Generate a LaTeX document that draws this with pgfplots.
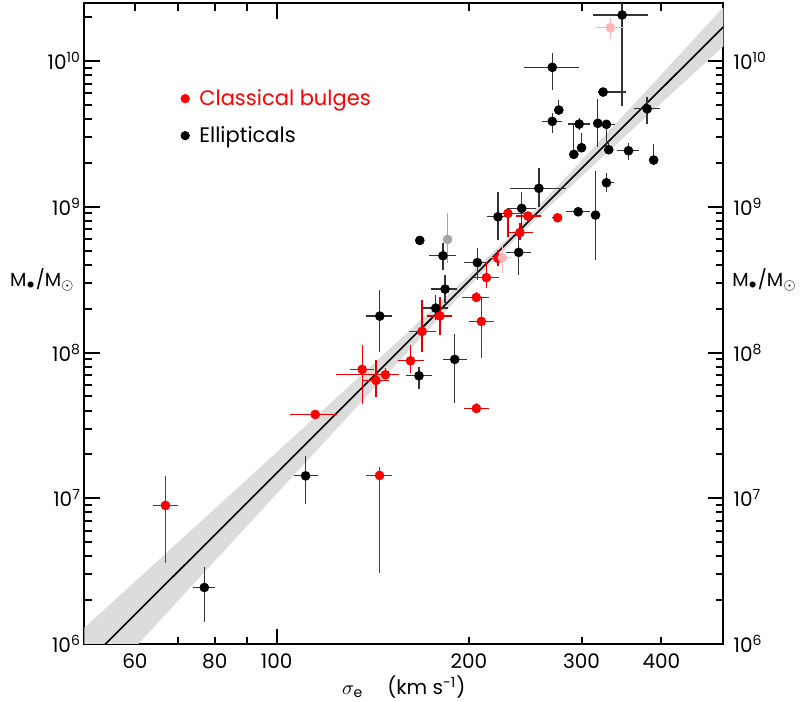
\documentclass[border=0pt]{standalone}
\usepackage{pgfplots}
\pgfplotsset{compat=1.18}
\usepackage{pgfplotstable}
\usepgfplotslibrary{fillbetween}
\usepackage{fontspec}
\setmainfont{Poppins}

\definecolor{pinkpt}{RGB}{250,182,182}
\definecolor{greypt}{RGB}{165,165,165}
\definecolor{bandgrey}{RGB}{220,220,220}

% sigma_e (km/s), M_BH (Msun), errors: x minus, x plus, y minus, y plus
\pgfplotstableread{
x y xm xp ym yp
347.3 2.069e10 34.9 34.1 1.578e10 1.5e10
270.0 9.053e9 26.2 27.1 2.731e9 2.350e9
324.3 6.126e9 5.4 28.1 0.374e9 0.400e9
276.4 4.610e9 3.2 3.7 0.351e9 0.790e9
270.0 3.856e9 9.9 10.1 0.666e9 0.540e9
297.5 3.696e9 11.9 11.6 0.335e9 0.367e9
318.1 3.737e9 3.8 3.1 1.155e9 1.723e9
328.2 3.678e9 7.0 10.8 1.096e9 0.258e9
380.0 4.705e9 17.9 18.7 1.009e9 0.984e9
300.0 2.541e9 3.2 3.2 0.167e9 0.649e9
291.8 2.289e9 2.4 2.8 0.096e9 1.348e9
330.9 2.462e9 3.9 3.3 0.125e9 0.408e9
355.3 2.423e9 14.2 13.4 0.331e9 0.313e9
389.1 2.092e9 3.2 3.8 0.097e9 0.601e9
328.2 1.461e9 5.0 8.8 0.193e9 0.234e9
257.3 1.338e9 25.5 25.9 0.338e9 0.497e9
296.4 0.924e9 13.2 13.4 0.047e9 0.056e9
315.5 0.877e9 3.4 3.4 0.446e9 0.890e9
241.8 0.975e9 12.2 12.5 0.283e9 0.293e9
222.0 0.854e9 8.3 10.4 0.263e9 0.414e9
239.2 4.865e8 11.0 10.6 1.467e8 1.704e8
206.1 4.140e8 9.7 8.8 1.000e8 1.042e8
183.5 2.723e8 9.3 8.3 0.550e8 0.675e8
177.4 2.017e8 9.3 7.7 0.348e8 0.460e8
182.1 4.611e8 8.9 8.6 0.934e8 0.997e8
167.5 5.879e8 1.8 1.8 0.420e8 0.344e8
145.0 1.777e8 6.8 6.8 0.766e8 0.905e8
190.0 8.97e7 8.2 8.9 4.50e7 4.40e7
167.0 6.922e7 7.7 7.8 1.341e7 1.056e7
111.0 1.425e7 4.7 4.9 0.514e7 0.520e7
77.07 2.442e6 2.98 3.02 1.024e6 0.940e6
}\ellip

\pgfplotstableread{
x y xm xp ym yp
66.99 8.925e6 2.98 3.05 5.357e6 5.255e6
275.2 8.404e8 5.2 4.7 0.302e8 0.367e8
230.1 9.010e8 5.9 13.7 2.787e8 0.482e8
247.3 8.635e8 10.7 11.5 0.533e8 0.561e8
240.3 6.652e8 11.2 11.3 0.745e8 1.041e8
222.0 4.425e8 5.8 6.2 0.508e8 0.620e8
212.9 3.266e8 9.3 9.9 0.512e8 0.927e8
205.3 2.388e8 10.0 9.6 0.170e8 0.222e8
209.1 1.635e8 9.1 9.7 0.715e8 0.776e8
180.1 1.783e8 7.9 8.3 0.467e8 0.628e8
168.9 1.396e8 7.7 8.5 0.385e8 0.893e8
162.0 8.770e7 7.4 8.1 1.581e7 2.47e7
136.1 7.657e7 5.9 6.0 3.233e7 3.583e7
148.0 7.032e7 24.2 7.4 0.568e7 0.784e7
143.1 6.434e7 6.7 6.7 1.468e7 2.433e7
114.9 3.759e7 10.0 9.4 0.213e7 0.265e7
205.4 4.133e7 9.0 9.5 0.314e7 0.340e7
144.9 1.434e7 6.7 6.9 1.126e7 0.193e7
}\bulges

\pgfplotstableread{
x y xm xp ym yp
333.0 1.693e10 16.7 17.2 0.284e10 0.271e10
225.5 4.467e8 11.8 6.9 0.976e8 0.992e8
}\pinkpts

\pgfplotstableread{
x y xm xp ym yp
185.1 5.973e8 1.8 1.8 1.885e8 3.037e8
}\greypts

\begin{document}
\begin{tikzpicture}[font=\fontsize{10}{12}\selectfont]
\begin{axis}[
  at={(0,0)}, anchor=south west, scale only axis,
  width=319.5pt, height=320.35pt,
  xmode=log, ymode=log,
  xmin=50, xmax=500, ymin=1e6, ymax=2.49e10,
  axis line style={line width=1pt},
  tick style={line width=1pt, black},
  major tick length=7.75pt, minor tick length=3.75pt,
  tick align=inside, tick pos=both,
  xtick={100}, xticklabels={100},
  extra x ticks={60,80,200,300,400},
  extra x tick labels={60,80,200,300,400},
  extra x tick style={major tick length=3.75pt, grid=none},
  minor xtick={70,90,500},
  ytick={1e6,1e7,1e8,1e9,1e10},
  yticklabels={10\textsuperscript{6},10\textsuperscript{7},10\textsuperscript{8},10\textsuperscript{9},10\textsuperscript{10}},
  minor ytick={2e6,3e6,4e6,5e6,6e6,7e6,8e6,9e6,2e7,3e7,4e7,5e7,6e7,7e7,8e7,9e7,2e8,3e8,4e8,5e8,6e8,7e8,8e8,9e8,2e9,3e9,4e9,5e9,6e9,7e9,8e9,9e9,2e10},
  xticklabel style={inner sep=4.8pt},
  yticklabel style={inner sep=1.5pt},
  xlabel={$\sigma_{\mathrm{e}}$\hspace{12pt}(km s\textsuperscript{-1})},
  xlabel style={at={(axis description cs:0.5,0)}, anchor=base, yshift=-25.5pt},
  ylabel={M$_\bullet$/M$_\odot$},
  ylabel style={rotate=-90, at={(axis description cs:0,0.5572)}, anchor=base east, inner sep=0pt, xshift=-4.6pt, font=\fontsize{9.5}{11}\selectfont},
  legend style={draw=none, fill=none, inner sep=0pt, at={(axis description cs:0.1507,0.8697)}, anchor=north west, row sep=7pt, column sep=4pt, nodes={inner sep=1pt}, font=\fontsize{10.5}{12.6}\selectfont},
  legend cell align=left,
  legend image code/.code={\draw[#1] plot coordinates {(0cm,0cm)};},
  error bars/error mark=none,
]
\addlegendimage{only marks, mark=*, mark size=2.1pt, red}
\addlegendentry{\textcolor{red}{Classical bulges}}
\addlegendimage{only marks, mark=*, mark size=2.1pt, black}
\addlegendentry{Ellipticals}

% fit and its uncertainty band
\addplot[name path=up, draw=none, forget plot] coordinates {
(50,1.292e6) (60,2.678e6) (70,4.960e6) (80,8.459e6) (100,2.066e7) (130,5.908e7) (160,1.362e8) (200,3.382e8) (229,6.012e8) (260,1.065e9) (300,2.075e9) (350,4.295e9) (400,8.091e9) (450,1.416e10) (500,2.337e10)};
\addplot[name path=lo, draw=none, forget plot] coordinates {
(50,3.958e5) (60,9.433e5) (70,1.965e6) (80,3.711e6) (100,1.073e7) (130,3.736e7) (160,9.993e7) (200,2.842e8) (229,5.236e8) (260,8.991e8) (300,1.616e9) (350,3.012e9) (400,5.150e9) (450,8.260e9) (500,1.260e10)};
\addplot[bandgrey, draw=none, forget plot] fill between[of=up and lo];
\addplot[black, line width=0.8pt, forget plot] coordinates {(50,7.151e5) (500,1.7155e10)};

\addplot[only marks, mark=*, mark size=2.2pt, black, forget plot,
  error bars/.cd, x dir=both, x explicit, y dir=both, y explicit,
  error bar style={line width=0.65pt, black!80}]
  table[x=x, y=y, x error minus=xm, x error plus=xp, y error minus=ym, y error plus=yp] {\ellip};
\addplot[only marks, mark=*, mark size=2.2pt, greypt, forget plot,
  error bars/.cd, x dir=both, x explicit, y dir=both, y explicit,
  error bar style={line width=0.65pt, greypt}]
  table[x=x, y=y, x error minus=xm, x error plus=xp, y error minus=ym, y error plus=yp] {\greypts};
\addplot[only marks, mark=*, mark size=2.2pt, red, forget plot,
  error bars/.cd, x dir=both, x explicit, y dir=both, y explicit,
  error bar style={line width=0.65pt, red!90!black}]
  table[x=x, y=y, x error minus=xm, x error plus=xp, y error minus=ym, y error plus=yp] {\bulges};
\addplot[only marks, mark=*, mark size=2.2pt, pinkpt, forget plot,
  error bars/.cd, x dir=both, x explicit, y dir=both, y explicit,
  error bar style={line width=0.65pt, pinkpt}]
  table[x=x, y=y, x error minus=xm, x error plus=xp, y error minus=ym, y error plus=yp] {\pinkpts};
\end{axis}

\begin{axis}[
  at={(0,0)}, anchor=south west, scale only axis,
  width=319.5pt, height=320.35pt,
  xmode=log, ymode=log,
  xmin=50, xmax=500, ymin=1e6, ymax=2.49e10,
  axis x line=none, axis y line*=right,
  y axis line style={draw=none},
  ytick style={draw=none},
  xtick=\empty,
  ytick={1e6,1e7,1e8,1e9,1e10},
  minor ytick={},
  yticklabels={10\textsuperscript{6},10\textsuperscript{7},10\textsuperscript{8},10\textsuperscript{9},10\textsuperscript{10}},
  yticklabel style={inner sep=1.5pt, xshift=3.5pt},
  ylabel={M$_\bullet$/M$_\odot$},
  ylabel style={rotate=-90, at={(axis description cs:1,0.5572)}, anchor=base west, inner sep=0pt, xshift=4.3pt, font=\fontsize{9.5}{11}\selectfont},
]
\addplot[draw=none, forget plot] coordinates {(100,1e8) (200,1e9)};
\end{axis}
\pgfresetboundingbox
\path[use as bounding box] (-42.15pt,-29pt) rectangle (357.85pt,322pt);
\end{tikzpicture}
\end{document}
